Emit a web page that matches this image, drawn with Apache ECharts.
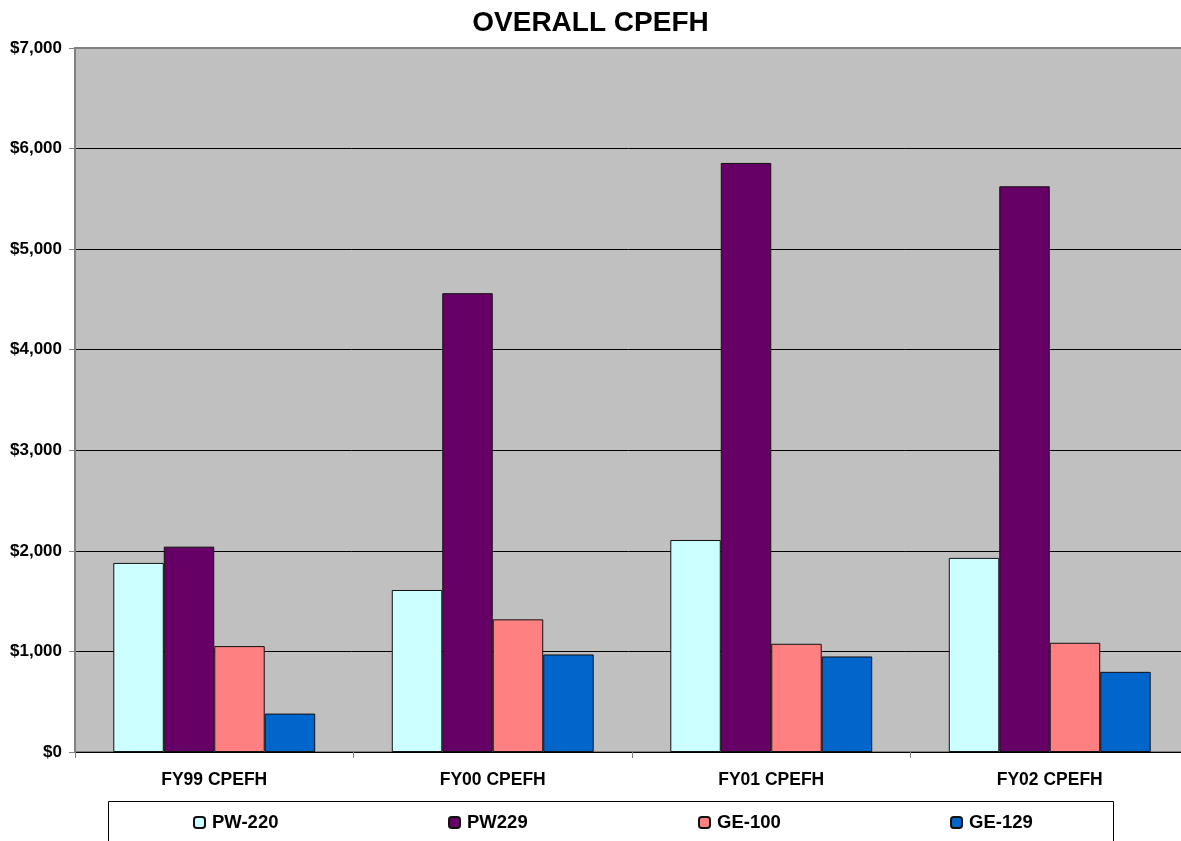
<!DOCTYPE html>
<html>
<head>
<meta charset="utf-8">
<script src="https://cdn.jsdelivr.net/npm/echarts@6/dist/echarts.min.js"></script>
<style>
html,body{margin:0;padding:0;background:#fff;}
#c{width:1181px;height:841px;}
</style>
</head>
<body>
<div id="c"></div>
<script>
var categories = ['FY99 CPEFH', 'FY00 CPEFH', 'FY01 CPEFH', 'FY02 CPEFH'];
var seriesNames = ['PW-220', 'PW229', 'GE-100', 'GE-129'];
var pw220 = [1880, 1611, 2108, 1930];
var pw229 = [2042, 4562, 5857, 5625];
var ge100 = [1053, 1319, 1076, 1086];
var ge129 = [382, 970, 950, 797];
var yTicks = { min: 0, max: 7000, interval: 1000 };

var colors = ['#CCFFFF', '#660066', '#FF8080', '#0066CC'];
var values = [pw220, pw229, ge100, ge129];
var legendLeft = [193, 448, 698, 950];
var font = '"Liberation Sans", Arial, sans-serif';

var chart = echarts.init(document.getElementById('c'));
var series = seriesNames.map(function (n, i) {
  return {
    name: n,
    type: 'bar',
    data: values[i],
    barGap: '0%',
    barCategoryGap: '27.5%',
    itemStyle: { color: colors[i], borderColor: '#111', borderWidth: 1 },
    emphasis: { disabled: true }
  };
});
var legends = seriesNames.map(function (n, i) {
  return {
    data: [n],
    left: legendLeft[i],
    top: 813,
    padding: 0,
    itemWidth: 11,
    itemHeight: 11,
    selectedMode: false,
    textStyle: { fontFamily: font, fontSize: 18.5, fontWeight: 'bold', color: '#000', padding: [0, 0, 0, 2] }
  };
});

chart.setOption({
  animation: false,
  title: {
    text: 'OVERALL CPEFH',
    left: 'center',
    top: 4,
    textStyle: { fontFamily: font, fontSize: 28, fontWeight: 'bold', color: '#000' }
  },
  graphic: [{
    type: 'rect',
    shape: { x: 108.5, y: 801.5, width: 1005, height: 60 },
    style: { fill: '#fff', stroke: '#000', lineWidth: 1 },
    z: -1
  }],
  legend: legends,
  grid: {
    left: 75, width: 1114, top: 48, bottom: 89,
    outerBoundsMode: 'none',
    containLabel: false,
    show: true,
    backgroundColor: '#C0C0C0',
    borderColor: '#808080',
    borderWidth: 2
  },
  xAxis: {
    type: 'category',
    data: categories,
    axisLine: { lineStyle: { color: '#000', width: 1 } },
    axisTick: { show: true, alignWithLabel: false, length: 6, lineStyle: { color: '#808080', width: 1 } },
    axisLabel: { fontFamily: font, fontSize: 17.5, fontWeight: 'bold', color: '#000', margin: 19 }
  },
  yAxis: {
    type: 'value',
    min: yTicks.min,
    max: yTicks.max,
    interval: yTicks.interval,
    axisLine: { show: true, lineStyle: { color: '#808080', width: 2 } },
    axisTick: { show: true, length: 6, lineStyle: { color: '#808080', width: 1 } },
    splitLine: { showMaxLine: false, lineStyle: { color: '#000', width: 1 } },
    axisLabel: {
      fontFamily: font, fontSize: 17, fontWeight: 'bold', color: '#000', margin: 13,
      formatter: function (v) { return '$' + v.toLocaleString('en-US'); }
    }
  },
  series: series
});
</script>
</body>
</html>
